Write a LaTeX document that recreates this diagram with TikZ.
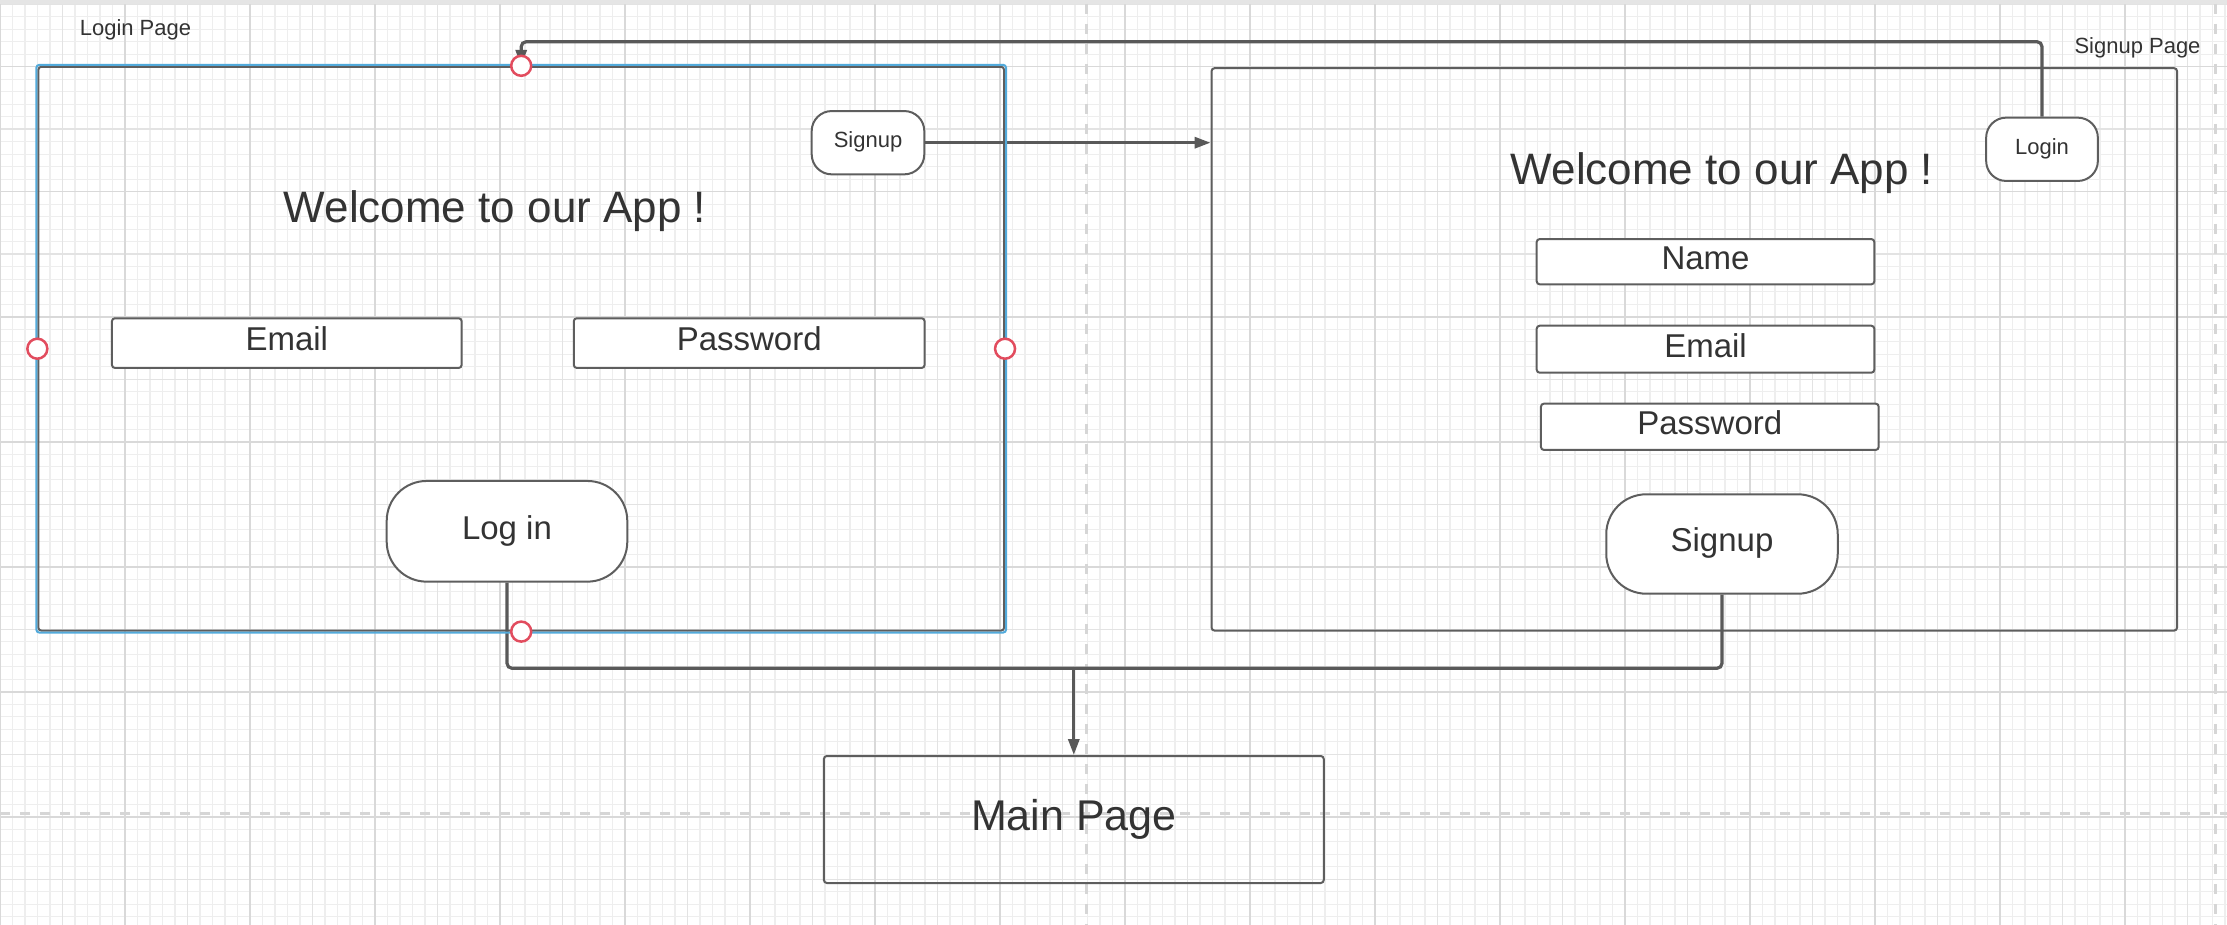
\documentclass[tikz,border=0pt]{standalone}
\usepackage{fontspec}
\setmainfont{Liberation Sans}
\usepackage{tikz}
\usetikzlibrary{arrows.meta}
\definecolor{ink}{RGB}{51,51,51}
\definecolor{edge}{RGB}{94,94,94}
\definecolor{wire}{RGB}{89,89,89}
\definecolor{select}{RGB}{82,170,219}
\definecolor{handle}{RGB}{226,76,94}
\definecolor{gridminor}{RGB}{238,238,238}
\definecolor{gridmid}{RGB}{227,227,227}
\definecolor{gridmajor}{RGB}{217,217,217}
\definecolor{pagebreak}{RGB}{214,214,214}

\begin{document}
\begin{tikzpicture}[x=1pt, y=-1pt, text=ink,
    frame/.style={draw=edge, line width=2pt, rounded corners=3pt, inner sep=0pt},
    field/.style={draw=edge, line width=2pt, rounded corners=3pt, fill=white, inner sep=0pt, font=\fontsize{33}{33}\selectfont, text height=23.6pt, text depth=8pt},
    pill/.style={draw=edge, line width=2pt, fill=white, inner sep=0pt, rounded corners=20pt, minimum height=63.3pt, font=\fontsize{22}{22}\selectfont, text height=15.8pt, text depth=6pt},
    bigpill/.style={draw=edge, line width=2pt, fill=white, inner sep=0pt, rounded corners=40pt, font=\fontsize{33}{33}\selectfont, text height=23.6pt, text depth=8pt},
    caption/.style={font=\fontsize{22}{22}\selectfont, text height=15.8pt, text depth=0pt, inner sep=0pt},
    title/.style={font=\fontsize{44}{44}\selectfont, text height=31.5pt, text depth=0pt, inner sep=0pt},
    conn/.style={draw=wire, line width=3.2pt, rounded corners=5pt},
    tip/.style={-{Triangle[length=16pt, width=11pt]}},
    knob/.style={circle, draw=handle, fill=white, line width=2.5pt, minimum size=20pt, inner sep=0pt}]
    \useasboundingbox (0,0) rectangle (2227,925);
    \fill[white] (0,0) rectangle (2227,925);
    \foreach \i in {0,...,178} \draw[gridminor, line width=1.2pt] (12.5*\i,0) -- (12.5*\i,925);
    \foreach \j in {0,...,73} \draw[gridminor, line width=1.2pt] (0,4.2+12.5*\j) -- (2227,4.2+12.5*\j);
    \foreach \i in {0,...,35} \draw[gridmid, line width=1.4pt] (62.5*\i,0) -- (62.5*\i,925);
    \foreach \j in {0,...,14} \draw[gridmid, line width=1.4pt] (0,4.2+62.5*\j) -- (2227,4.2+62.5*\j);
    \foreach \i in {0,...,17} \draw[gridmajor, line width=1.6pt] (125*\i,0) -- (125*\i,925);
    \foreach \j in {0,...,6} \draw[gridmajor, line width=1.6pt] (0,66.7+125*\j) -- (2227,66.7+125*\j);
    \fill[gray!20] (0,0) rectangle (2227,4);
    \draw[pagebreak, line width=3pt, dash pattern=on 10pt off 10pt] (1086.5,4) -- (1086.5,925);
    \draw[pagebreak, line width=3pt, dash pattern=on 10pt off 10pt] (2215.7,4) -- (2215.7,925);
    \draw[pagebreak, line width=3pt, dash pattern=on 10pt off 10pt] (0,813.3) -- (2227,813.3);

    \node[caption] (lpagelabel) at (135.5,27.2) {Login Page};
    \node[caption] (spagelabel) at (2137.5,45.6) {Signup Page};
    \node[frame, minimum width=965.7pt, minimum height=563.8pt] (lpage) at (521.2,348.7) {};
    \node[frame, minimum width=965.5pt, minimum height=562.4pt] (spage) at (1694.3,349.4) {};

    \node[title] (lwelcome) at (495,206.7) {Welcome to our App !};
    \node[pill, minimum width=112.6pt] (gosignup) at (868,142.7) {Signup};
    \node[field, minimum width=349.7pt, minimum height=49.7pt] (lemail) at (286.8,343.1) {Email};
    \node[field, minimum width=350.8pt, minimum height=49.7pt] (lpass) at (749.2,343.1) {Password};
    \node[bigpill, minimum width=240.6pt, minimum height=100.7pt] (loginbtn) at (507,531.3) {Log in};

    \node[title] (swelcome) at (1722,169) {Welcome to our App !};
    \node[pill, minimum width=111.7pt] (gologin) at (2042,149.3) {Login};
    \node[field, minimum width=337.6pt, minimum height=45.3pt] (sname) at (1705.5,261.7) {Name};
    \node[field, minimum width=337.6pt, minimum height=47pt] (semail) at (1705.5,349.2) {Email};
    \node[field, minimum width=337.7pt, minimum height=46.3pt] (spass) at (1709.8,426.8) {Password};
    \node[bigpill, minimum width=231.5pt, minimum height=99.4pt] (signupbtn) at (1722,544) {Signup};

    \node[frame, minimum width=499.9pt, minimum height=127pt, font=\fontsize{43}{43}\selectfont, text height=31pt, text depth=9.5pt] (mainpage) at (1073.8,819.5) {Main Page};
    \coordinate (merge) at (1073.8,668.3);

    \draw[conn, tip] (gosignup.east) -- (gosignup.east -| spage.west);
    \draw[conn, tip] (gologin.north) |- (lpage.north |- 0,41.7) -- (lpage.north);
    \draw[conn] (loginbtn.south) |- (merge);
    \draw[conn] (signupbtn.south) |- (merge);
    \draw[conn, tip] (merge) -- (mainpage.north);

    \draw[select, line width=2pt, rounded corners=3pt] ([shift={(-1,-1)}]lpage.north west) rectangle ([shift={(1,1)}]lpage.south east);
    \node[knob] (knobn) at (lpage.north) {};
    \node[knob] (knobw) at (lpage.west) {};
    \node[knob] (knobe) at (lpage.east) {};
    \node[knob] (knobs) at (lpage.south) {};
\end{tikzpicture}
\end{document}
